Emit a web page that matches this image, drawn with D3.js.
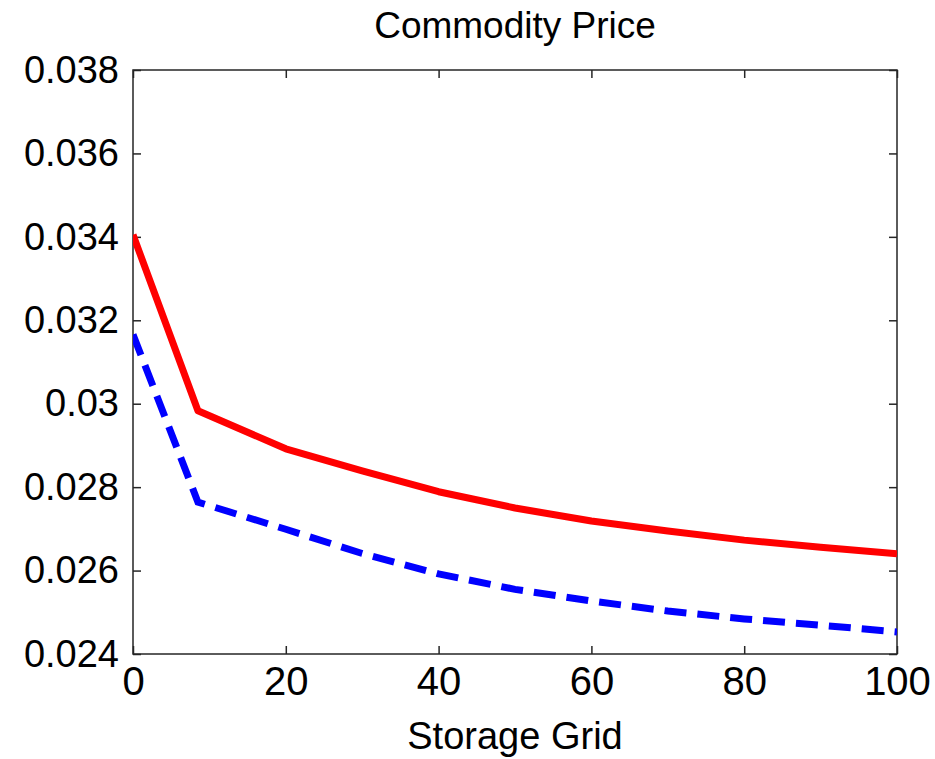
<!DOCTYPE html>
<html>
<head>
<meta charset="utf-8">
<script src="https://cdn.jsdelivr.net/npm/d3@7"></script>
<style>
  body { margin: 0; background: #fff; }
  text { font-family: Arial, "Liberation Sans", sans-serif; fill: #000; }
</style>
</head>
<body>
<div id="chart"></div>
<script>
// storage grid points and the two price curves
var storageGrid = [0, 8.5, 20, 30, 40, 50, 60, 70, 80, 90, 100];
var priceRed  = [0.03405, 0.02983, 0.02892, 0.02839, 0.02789, 0.02750, 0.02719, 0.02695, 0.02673, 0.02656, 0.02640];
var priceBlue = [0.03166, 0.02764, 0.02699, 0.02641, 0.02592, 0.02555, 0.02527, 0.02503, 0.02484, 0.02469, 0.02453];
var xTicks = [0, 20, 40, 60, 80, 100];
var yTicks = [0.024, 0.026, 0.028, 0.03, 0.032, 0.034, 0.036, 0.038];

var width = 935, height = 759;
var margin = {top: 70, right: 38, bottom: 105, left: 133};
var w = width - margin.left - margin.right,
    h = height - margin.top - margin.bottom;

var svg = d3.select("#chart").append("svg")
    .attr("width", width)
    .attr("height", height);

var g = svg.append("g")
    .attr("transform", "translate(" + margin.left + "," + margin.top + ")");

var x = d3.scaleLinear().domain([0, 100]).range([0, w]);
var y = d3.scaleLinear().domain([0.024, 0.038]).range([h, 0]);

var fmt = function(d) { return String(+d.toFixed(3)); };

// axes, ticks pointing inward like matlab
var axColor = "#262626";
function styleAxis(sel, size) {
    sel.select(".domain").remove();
    sel.selectAll(".tick line").attr("stroke", axColor).attr("stroke-width", 1.5);
    sel.selectAll(".tick text").style("font-size", size + "px");
}

g.append("g")
    .attr("transform", "translate(0," + h + ")")
    .call(d3.axisBottom(x).tickValues(xTicks).tickSize(-8).tickPadding(13))
    .call(styleAxis, 40);
g.append("g")
    .call(d3.axisTop(x).tickValues(xTicks).tickSize(-8).tickFormat(""))
    .call(styleAxis, 40);
g.append("g")
    .call(d3.axisLeft(y).tickValues(yTicks).tickSize(-8).tickPadding(14).tickFormat(fmt))
    .call(styleAxis, 38);
g.append("g")
    .attr("transform", "translate(" + w + ",0)")
    .call(d3.axisRight(y).tickValues(yTicks).tickSize(-8).tickFormat(""))
    .call(styleAxis, 38);

// box
g.append("rect")
    .attr("width", w).attr("height", h)
    .attr("fill", "none")
    .attr("stroke", axColor)
    .attr("stroke-width", 1.5);

var line = function(vals) {
    return d3.line()
        .x(function(d, i) { return x(storageGrid[i]); })
        .y(function(d) { return y(d); })(vals);
};

g.append("clipPath").attr("id", "clip")
    .append("rect").attr("width", w).attr("height", h);

g.append("path")
    .attr("d", line(priceRed))
    .attr("fill", "none")
    .attr("stroke", "#ff0000")
    .attr("stroke-width", 7)
    .attr("stroke-linejoin", "round")
    .attr("clip-path", "url(#clip)");

g.append("path")
    .attr("d", line(priceBlue))
    .attr("fill", "none")
    .attr("stroke", "#0000ff")
    .attr("stroke-width", 7)
    .attr("stroke-dasharray", "22,11")
    .attr("clip-path", "url(#clip)");

// title and label
svg.append("text")
    .attr("x", margin.left + w / 2)
    .attr("y", 38)
    .attr("text-anchor", "middle")
    .style("font-size", "37px")
    .text("Commodity Price");

svg.append("text")
    .attr("x", margin.left + w / 2)
    .attr("y", 749)
    .attr("text-anchor", "middle")
    .style("font-size", "38px")
    .text("Storage Grid");
</script>
</body>
</html>
